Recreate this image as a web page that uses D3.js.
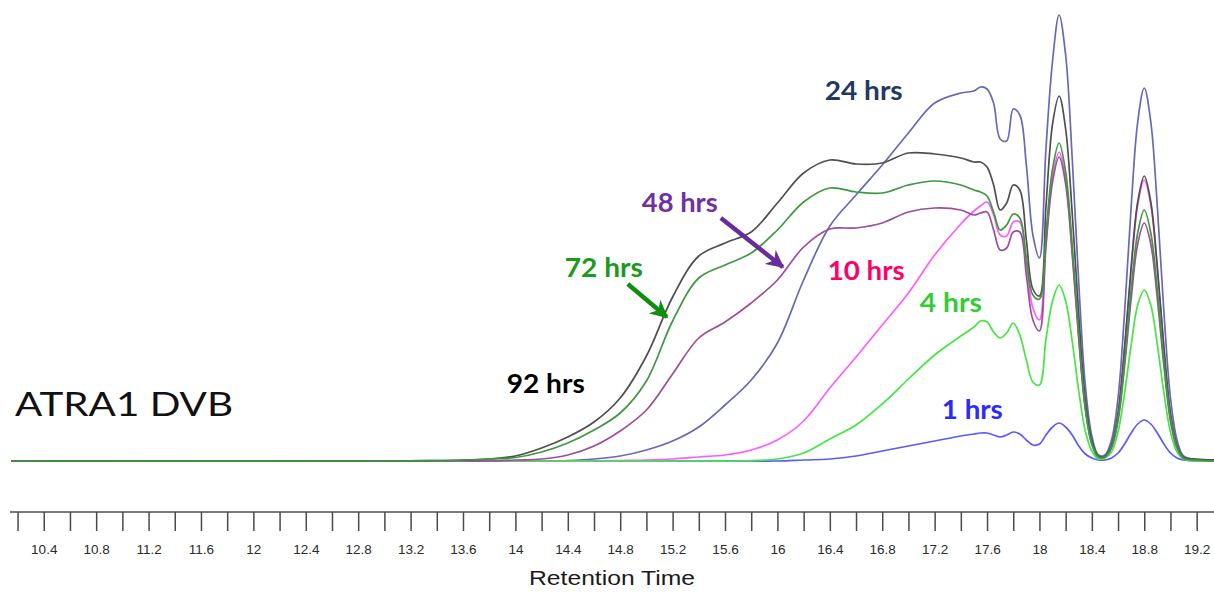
<!DOCTYPE html>
<html>
<head>
<meta charset="utf-8">
<script src="https://cdn.jsdelivr.net/npm/d3@7/dist/d3.min.js"></script>
<style>
  body { margin: 0; background: #ffffff; }
  svg { display: block; }
</style>
</head>
<body>
<script>
var width = 1214;
var height = 592;

// retention time grid (min)
var times = [10.15, 13.0, 13.4, 13.6, 13.8,
  14.0, 14.2, 14.4, 14.6, 14.8, 15.0, 15.2, 15.4, 15.6, 15.8, 16.0, 16.2, 16.4, 16.6, 16.8, 17.0, 17.2, 17.4,
  17.5, 17.55, 17.6, 17.65, 17.7, 17.75, 17.8, 17.85, 17.9, 17.95, 18.0,
  18.05, 18.1, 18.15, 18.2, 18.25, 18.3, 18.35, 18.4, 18.45, 18.5, 18.55, 18.6,
  18.65, 18.7, 18.75, 18.8, 18.85, 18.9, 18.95, 19.0, 19.05, 19.1, 19.2, 19.34];

// detector response (arbitrary units) for each sampling time
var hrs1 = [0, 0, 0, 0, 0,
  0, 0, 0, 0, 0, 0, 0, 0, 0, 0, 0, 1, 2, 5, 10, 15, 20, 25,
  27, 28, 28, 26, 24, 26, 29, 27, 21, 16, 17,
  26, 34, 38, 34, 26, 15, 7, 3, 1, 1, 3, 8,
  17, 28, 37, 41, 37, 28, 17, 8, 3, 1, 0, 0];
var hrs4 = [0, 0, 0, 0, 0,
  0, 0, 0, 0, 0, 0, 0, 0, 0, 0.5, 2, 8, 22, 36, 57, 82, 106, 125,
  134, 140, 139, 129, 123, 128, 138, 126, 101, 79, 76,
  122, 160, 176, 160, 120, 70, 30, 10, 2, 3, 9, 29,
  68, 116, 156, 171, 156, 116, 68, 29, 9, 2, 0, 0];
var hrs10 = [0, 0, 0, 0, 0,
  0, 0, 0, 0, 0.5, 1, 2, 4, 6, 11, 21, 40, 73, 104, 136, 168, 206, 237,
  250, 255, 259, 246, 226, 225, 239, 239, 196, 153, 141,
  220, 284, 309, 281, 210, 124, 53, 17, 4, 5, 15, 48,
  112, 191, 256, 281, 256, 191, 112, 48, 15, 4, 1, 0];
var hrs24 = [0, 0, 0, 0, 0,
  0, 0, 0.5, 2, 5, 11, 20, 34, 56, 81, 118, 181, 235, 266, 296, 328, 358, 368,
  370, 374, 372, 358, 322, 320, 352, 346, 296, 226, 203,
  313, 400, 446, 406, 303, 178, 76, 25, 6, 6, 21, 63,
  149, 254, 339, 373, 339, 254, 149, 63, 21, 5, 1, 0];
var hrs48 = [0, 0, 0, 0, 0,
  1, 2, 6, 15, 30, 51, 87, 123, 139, 158, 181, 214, 232, 233, 238, 249, 253, 251,
  246, 248, 249, 231, 211, 213, 229, 229, 186, 141, 130,
  215, 279, 304, 277, 207, 122, 52, 17, 4, 4, 13, 40,
  95, 162, 217, 238, 217, 162, 95, 40, 13, 3, 1, 0];
var hrs72 = [0, 0, 0.5, 1, 2,
  3.5, 9, 18, 31, 48, 80, 140, 183, 196, 208, 231, 259, 273, 269, 268, 276, 280, 276,
  271, 269, 265, 249, 231, 236, 247, 243, 203, 166, 162,
  228, 292, 318, 289, 216, 127, 54, 17, 4, 4, 14, 43,
  100, 171, 228, 251, 228, 171, 100, 43, 14, 3, 1, 0];
var hrs92 = [0, 0, 0.5, 1, 2,
  5, 13, 24, 39, 63, 105, 164, 205, 218, 229, 258, 288, 301, 297, 298, 308, 307, 303,
  299, 299, 294, 276, 251, 258, 276, 271, 221, 172, 165,
  255, 337, 365, 332, 248, 146, 62, 20, 5, 5, 16, 48,
  114, 194, 259, 285, 259, 194, 114, 48, 16, 4, 2, 1];

var tickValues = [10.2, 10.4, 10.6, 10.8, 11, 11.2, 11.4, 11.6, 11.8, 12, 12.2, 12.4, 12.6, 12.8,
  13, 13.2, 13.4, 13.6, 13.8, 14, 14.2, 14.4, 14.6, 14.8, 15, 15.2, 15.4, 15.6, 15.8,
  16, 16.2, 16.4, 16.6, 16.8, 17, 17.2, 17.4, 17.6, 17.8, 18, 18.2, 18.4, 18.6, 18.8, 19, 19.2];
var tickLabels = ["10.4", "10.8", "11.2", "11.6", "12", "12.4", "12.8", "13.2", "13.6", "14",
  "14.4", "14.8", "15.2", "15.6", "16", "16.4", "16.8", "17.2", "17.6", "18", "18.4", "18.8", "19.2"];

var series = [
  {name: "24 hrs", values: hrs24, color: "#6868ba"},
  {name: "1 hrs", values: hrs1, color: "#5a5aff"},
  {name: "10 hrs", values: hrs10, color: "#ff5cff"},
  {name: "4 hrs", values: hrs4, color: "#44e644"},
  {name: "48 hrs", values: hrs48, color: "#9c4e9c"},
  {name: "92 hrs", values: hrs92, color: "#4f4f4f"},
  {name: "72 hrs", values: hrs72, color: "#3f973f"}
];

var x = d3.scaleLinear().domain([10.15, 19.34]).range([11, 1215]);
var y = d3.scaleLinear().domain([0, 447]).range([461, 14]);

var svg = d3.select("body")
    .append("svg")
    .attr("width", width)
    .attr("height", height);

svg.append("rect")
    .attr("width", width)
    .attr("height", height)
    .attr("fill", "#ffffff");

// chromatogram traces
var line = d3.line()
    .x(function(d) { return x(d[0]); })
    .y(function(d) { return y(d[1]); })
    .curve(d3.curveCatmullRom.alpha(0.5));

svg.append("g")
    .attr("class", "traces")
    .selectAll("path")
    .data(series)
    .enter()
    .append("path")
    .attr("d", function(s) {
        return line(times.map(function(t, i) { return [t, s.values[i]]; }));
    })
    .attr("fill", "none")
    .attr("stroke", function(s) { return s.color; })
    .attr("stroke-width", 1.7)
    .attr("stroke-linejoin", "round");

// x axis
var axis = d3.axisBottom(x)
    .tickValues(tickValues)
    .tickSize(19)
    .tickSizeOuter(0)
    .tickPadding(13)
    .tickFormat(function(d) {
        var s = String(d);
        return tickLabels.indexOf(s) >= 0 ? s : "";
    });

var gx = svg.append("g")
    .attr("transform", "translate(0,512)")
    .call(axis);

gx.select(".domain")
    .attr("d", "M10,0H1214")
    .attr("stroke", "#7a7a7a")
    .attr("stroke-width", 2.2);
gx.selectAll(".tick line")
    .attr("stroke", "#4a4a4a")
    .attr("stroke-width", 1.5);
gx.selectAll(".tick text")
    .attr("fill", "#2a2a2a")
    .style("font-family", "'Liberation Sans', Arial, sans-serif")
    .style("font-size", "13.5px");

svg.append("text")
    .attr("x", 612)
    .attr("y", 585)
    .attr("text-anchor", "middle")
    .attr("textLength", 166)
    .attr("lengthAdjust", "spacingAndGlyphs")
    .attr("fill", "#1a1a1a")
    .style("font-family", "'Liberation Sans', Arial, sans-serif")
    .style("font-size", "21px")
    .text("Retention Time");

// sample title
svg.append("text")
    .attr("x", 15)
    .attr("y", 416)
    .attr("textLength", 218)
    .attr("lengthAdjust", "spacingAndGlyphs")
    .attr("fill", "#111111")
    .style("font-family", "Lato, 'Open Sans', sans-serif")
    .style("font-size", "33px")
    .text("ATRA1 DVB");

// trace labels, anchored in data units
var labels = [
  {text: "92 hrs", t: 13.934, v: 68, w: 78, color: "#000000"},
  {text: "72 hrs", t: 14.377, v: 184, w: 78, color: "#1c9a1c"},
  {text: "48 hrs", t: 14.965, v: 249, w: 76, color: "#7030a0"},
  {text: "24 hrs", t: 16.361, v: 361, w: 78, color: "#1f3864"},
  {text: "10 hrs", t: 16.384, v: 181, w: 77, color: "#ff0066"},
  {text: "4 hrs", t: 17.087, v: 149, w: 62, color: "#33cc33"},
  {text: "1 hrs", t: 17.255, v: 42, w: 61, color: "#2a2aff"}
];

svg.append("g")
    .selectAll("text")
    .data(labels)
    .enter()
    .append("text")
    .attr("x", function(d) { return x(d.t); })
    .attr("y", function(d) { return y(d.v); })
    .attr("textLength", function(d) { return d.w; })
    .attr("lengthAdjust", "spacingAndGlyphs")
    .attr("fill", function(d) { return d.color; })
    .style("font-family", "Lato, 'Open Sans', sans-serif")
    .style("font-weight", "bold")
    .style("font-size", "26px")
    .text(function(d) { return d.text; });

// arrows
var arrows = [
  {id: "a72", t0: 14.858, v0: 177, t1: 15.156, v1: 144, color: "#0f8f0f"},
  {id: "a48", t0: 15.568, v0: 243, t1: 16.041, v1: 194, color: "#6a2c9c"}
];

var defs = svg.append("defs");
arrows.forEach(function(a) {
    defs.append("marker")
        .attr("id", a.id)
        .attr("viewBox", "0 0 10 10")
        .attr("refX", 9)
        .attr("refY", 5)
        .attr("markerUnits", "userSpaceOnUse")
        .attr("markerWidth", 18)
        .attr("markerHeight", 18)
        .attr("orient", "auto")
        .append("path")
        .attr("d", "M0,0L10,5L0,10L3,5Z")
        .attr("fill", a.color);
});

svg.append("g")
    .selectAll("line")
    .data(arrows)
    .enter()
    .append("line")
    .attr("x1", function(a) { return x(a.t0); })
    .attr("y1", function(a) { return y(a.v0); })
    .attr("x2", function(a) { return x(a.t1); })
    .attr("y2", function(a) { return y(a.v1); })
    .attr("stroke", function(a) { return a.color; })
    .attr("stroke-width", 4.5)
    .attr("marker-end", function(a) { return "url(#" + a.id + ")"; });
</script>
</body>
</html>
